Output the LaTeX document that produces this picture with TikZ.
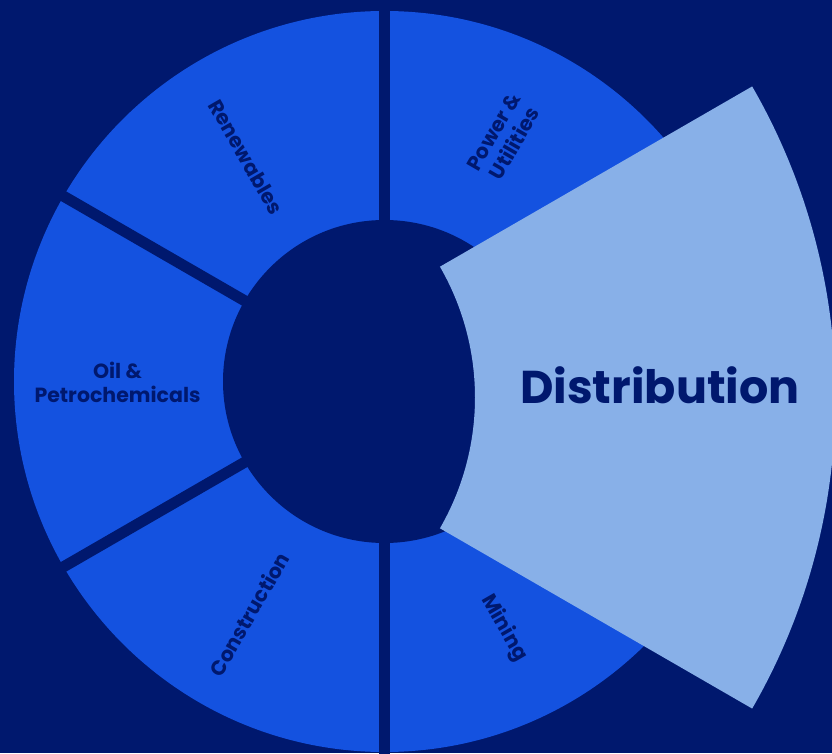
\documentclass[tikz,border=0pt]{standalone}
\usepackage{fontspec}
\setmainfont{Poppins}
\usetikzlibrary{calc}
\definecolor{bg}{HTML}{00186E}
\definecolor{seg}{HTML}{1452E0}
\definecolor{hl}{HTML}{88B0E8}
\begin{document}
\begin{tikzpicture}[x=1pt,y=1pt,
  lbl/.style={text=bg,font=\bfseries\fontsize{20.5}{24}\selectfont,align=center,inner sep=0pt},
  big/.style={text=bg,font=\bfseries\fontsize{46}{54}\selectfont,inner sep=0pt},
  gapline/.style={draw=bg,line width=11pt}]
\fill[bg] (0,0) rectangle (832,753);
\useasboundingbox (0,0) rectangle (832,753);
\coordinate (c) at (384.5,371.5);
\fill[seg] (c) circle[radius=370.5];
\foreach \a in {90,150,210,270} \draw[gapline] (c) -- ++(\a:385);
\fill[bg] (c) circle[radius=161.5];
\coordinate (d) at (213.4,355.5);
\fill[hl] ($(d)+(30:261.6)$) -- ($(d)+(30:622.1)$)
  arc[start angle=30,end angle=-30,radius=622.1]
  -- ($(d)+(-30:261.6)$)
  arc[start angle=-30,end angle=30,radius=261.6] -- cycle;
\node[lbl,rotate=-60] (ren) at (246,596) {Renewables};
\node[lbl,rotate=60] (pow) at (504,615.5) {Power \&\\Utilities};
\node[lbl] (oil) at (117.5,371) {Oil \&\\Petrochemicals};
\node[lbl,rotate=60] (con) at (249,139) {Construction};
\node[lbl,rotate=-60] (min) at (504,125) {Mining};
\node[big] (dis) at (660,367.5) {Distribution};
\end{tikzpicture}
\end{document}
